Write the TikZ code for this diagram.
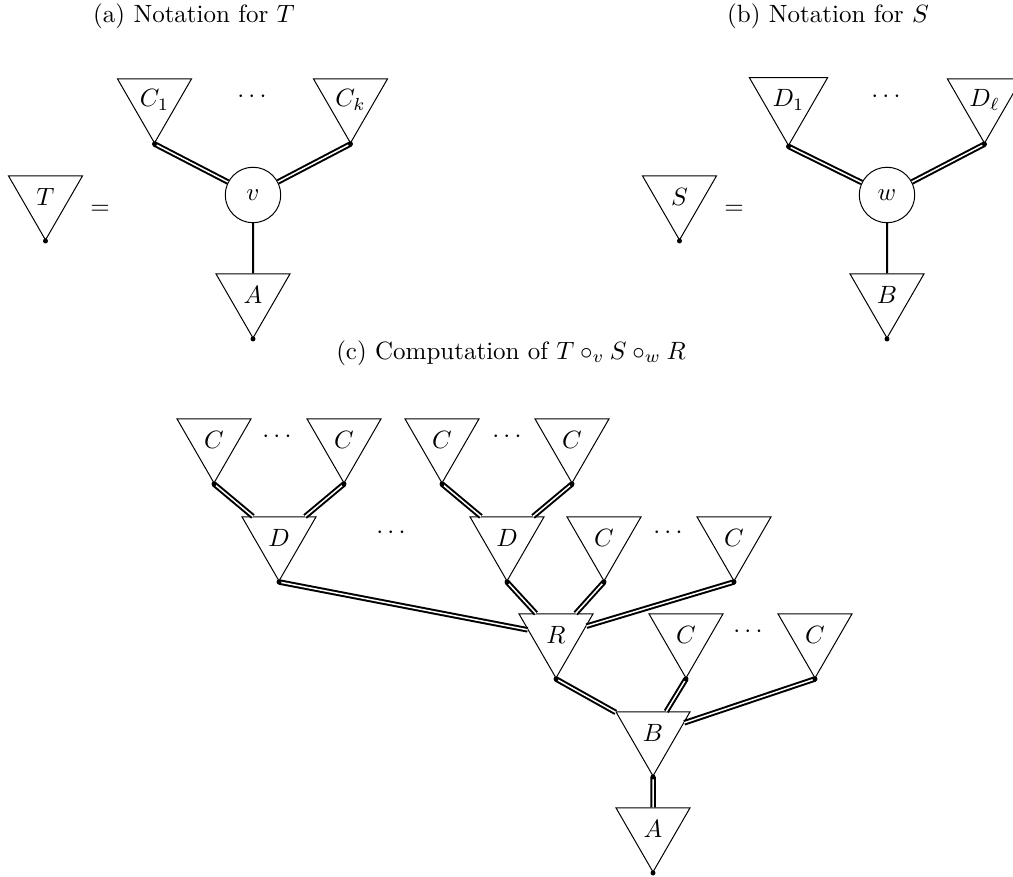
\documentclass[tikz,border=0pt]{standalone}
\usetikzlibrary{shapes.geometric}

\begin{document}
\begin{tikzpicture}[x=20pt,y=20pt,
  tri/.style={draw,regular polygon,regular polygon sides=3,shape border rotate=180,minimum size=1.2cm,inner sep=0pt},
  vtx/.style={draw,circle,minimum size=0.78cm,inner sep=0pt},
  dbl/.style={thick,double}]
\useasboundingbox (0,0) rectangle (20.26,17.54);

\node (ta) at (3.88,17.22) {(a) Notation for $T$};
\node (tb) at (16.56,17.22) {(b) Notation for $S$};
\node (tc) at (10.22,10.48) {(c) Computation of $T \circ_v S \circ_w R$};

\node[tri] (T) at (0.91,13.594) {$T$};
\node (eqa) at (2.0,13.34) {$=$};
\node[tri] (Ca) at (3.09,15.534) {$C_1$};
\node[tri] (Ck) at (7.01,15.534) {$C_k$};
\node (dta) at (5.04,15.6) {$\cdots$};
\node[vtx] (v) at (5.06,13.64) {$v$};
\node[tri] (A) at (5.06,11.634) {$A$};

\draw[dbl] (Ca.corner 1) -- (v);
\draw[dbl] (Ck.corner 1) -- (v);
\draw[thick] (v) -- (A);

\node[tri] (S) at (13.59,13.594) {$S$};
\node (eqb) at (14.68,13.34) {$=$};
\node[tri] (Da) at (15.77,15.534) {$D_1$};
\node[tri] (Dl) at (19.69,15.534) {$D_\ell$};
\node (dtb) at (17.72,15.6) {$\cdots$};
\node[vtx] (w) at (17.74,13.64) {$w$};
\node[tri] (B) at (17.74,11.634) {$B$};

\draw[dbl] (Da.corner 1) -- (w);
\draw[dbl] (Dl.corner 1) -- (w);
\draw[thick] (w) -- (B);

\node[tri] (Cc1) at (4.28,8.734) {$C$};
\node[tri] (Cc2) at (6.88,8.734) {$C$};
\node[tri] (Cc3) at (8.84,8.734) {$C$};
\node[tri] (Cc4) at (11.44,8.734) {$C$};
\node (dt1) at (5.54,8.8) {$\cdots$};
\node (dt2) at (10.14,8.8) {$\cdots$};

\node[tri] (Dc1) at (5.58,6.774) {$D$};
\node[tri] (Dc2) at (10.14,6.774) {$D$};
\node[tri] (Cc5) at (12.08,6.774) {$C$};
\node[tri] (Cc6) at (14.68,6.774) {$C$};
\node (dt3) at (7.82,6.88) {$\cdots$};
\node (dt4) at (13.36,6.88) {$\cdots$};

\node[tri] (R) at (11.12,4.834) {$R$};
\node[tri] (Cc7) at (13.72,4.834) {$C$};
\node[tri] (Cc8) at (16.3,4.834) {$C$};
\node (dt5) at (14.96,4.9) {$\cdots$};

\node[tri] (Bc) at (13.06,2.874) {$B$};
\node[tri] (Ac) at (13.06,0.954) {$A$};

\draw[dbl] (Cc1.corner 1) -- (Dc1);
\draw[dbl] (Cc2.corner 1) -- (Dc1);
\draw[dbl] (Cc3.corner 1) -- (Dc2);
\draw[dbl] (Cc4.corner 1) -- (Dc2);
\draw[dbl] (Dc1.corner 1) -- (R);
\draw[dbl] (Dc2.corner 1) -- (R);
\draw[dbl] (Cc5.corner 1) -- (R);
\draw[dbl] (Cc6.corner 1) -- (R);
\draw[dbl] (R.corner 1) -- (Bc);
\draw[dbl] (Cc7.corner 1) -- (Bc);
\draw[dbl] (Cc8.corner 1) -- (Bc);
\draw[dbl] (Bc.corner 1) -- (Ac);

\foreach \n in {T,Ca,Ck,A,S,Da,Dl,B,Cc1,Cc2,Cc3,Cc4,Dc1,Dc2,Cc5,Cc6,R,Cc7,Cc8,Bc,Ac}
  \fill (\n.corner 1) circle (1pt);

\end{tikzpicture}
\end{document}
